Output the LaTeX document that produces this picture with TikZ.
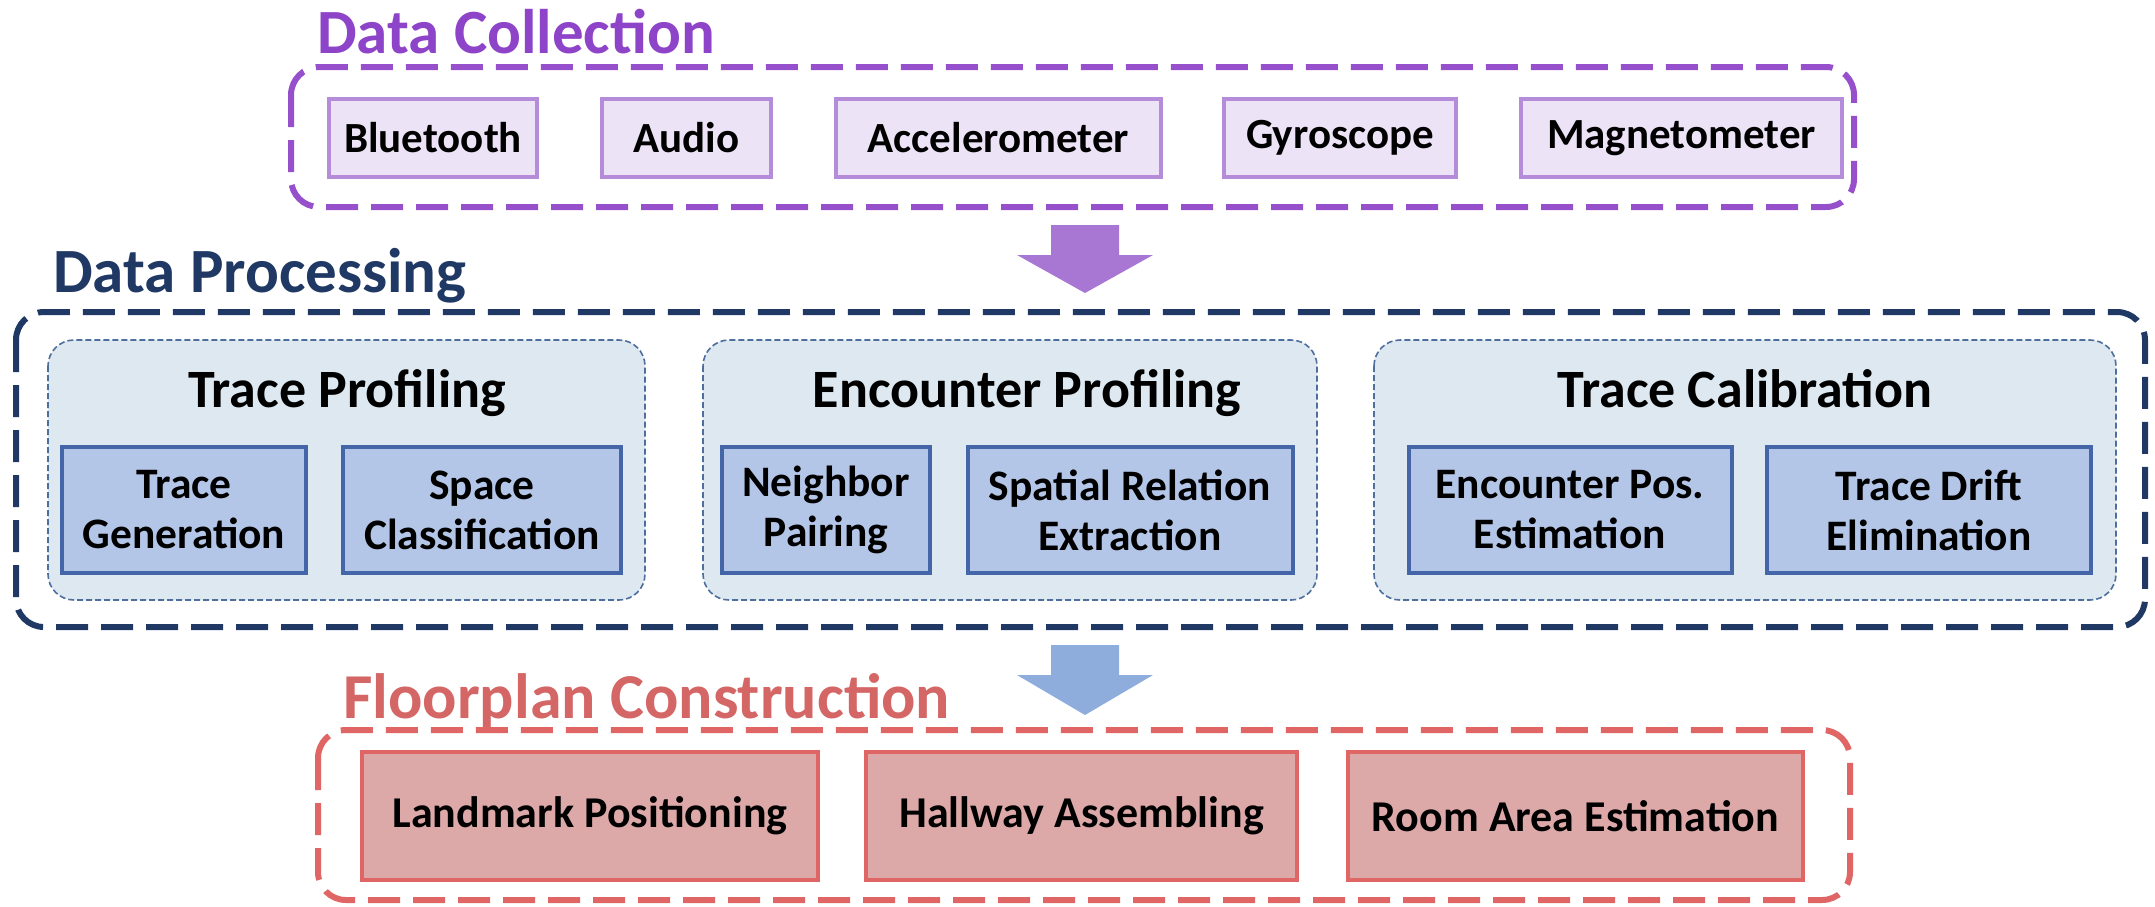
\documentclass[tikz,border=0pt]{standalone}
\usepackage{fontspec}
\setmainfont{Carlito}
\definecolor{dcpurple}{HTML}{8E44C8}
\definecolor{dcdash}{HTML}{9650CC}
\definecolor{sensfill}{HTML}{EDE3F7}
\definecolor{sensline}{HTML}{B58CDA}
\definecolor{parrow}{HTML}{A877D4}
\definecolor{dpnavy}{HTML}{1F3864}
\definecolor{panfill}{HTML}{DDE8F0}
\definecolor{panline}{HTML}{4E6E9E}
\definecolor{subfill}{HTML}{B4C6E7}
\definecolor{subline}{HTML}{4466A8}
\definecolor{barrow}{HTML}{8EADDC}
\definecolor{fcred}{HTML}{D46666}
\definecolor{redfill}{HTML}{DDA8A8}
\definecolor{redline}{HTML}{E06666}
\begin{document}
\begin{tikzpicture}[x=1pt,y=-1pt,
  outerbox/.style={line width=6pt, dash pattern=on 32pt off 13pt, rounded corners=28pt},
  titletext/.style={anchor=base west, inner sep=0pt, font=\bfseries\fontsize{63}{66}\selectfont},
  sensor/.style={draw=sensline, fill=sensfill, line width=4pt, minimum height=78pt, inner sep=0pt, font=\bfseries\fontsize{43}{46}\selectfont},
  panel/.style={draw=panline, fill=panfill, line width=1.6pt, dash pattern=on 6pt off 3pt, rounded corners=26pt},
  pantitle/.style={anchor=base, inner sep=0pt, font=\bfseries\fontsize{54}{58}\selectfont},
  subbox/.style={draw=subline, fill=subfill, line width=4pt, minimum height=126pt, inner sep=0pt, align=center, font=\bfseries\fontsize{43.5}{50}\selectfont},
  redbox/.style={draw=redline, fill=redfill, line width=4pt, minimum height=128pt, inner sep=0pt, font=\bfseries\fontsize{44}{48}\selectfont}
]
\useasboundingbox (0,0) rectangle (2155,906);

% ---------- Data Collection ----------
\node[titletext, text=dcpurple] (dctitle) at (317,53) {Data Collection};
\draw[outerbox, draw=dcdash] (291,67) rectangle (1854,207);
\node[sensor, minimum width=208pt] (bt) at (433,138) {Bluetooth};
\node[sensor, minimum width=169pt] (au) at (686.5,138) {Audio};
\node[sensor, minimum width=325pt] (ac) at (998.5,138) {Accelerometer};
\node[sensor, minimum width=232pt] (gy) at (1340,138) {Gyroscope};
\node[sensor, minimum width=321pt] (mg) at (1681.5,138) {Magnetometer};

% purple block arrow
\fill[parrow] (1051,225) -- (1119,225) -- (1119,255) -- (1153,255) -- (1085,293) -- (1017,255) -- (1051,255) -- cycle;

% ---------- Data Processing ----------
\node[titletext, text=dpnavy] (dptitle) at (53,292) {Data Processing};
\draw[outerbox, draw=dpnavy] (16,312) rectangle (2145,627);

\draw[panel] (48,340) rectangle (645,600);
\node[pantitle] (tp) at (347,407) {Trace Profiling};
\node[subbox, minimum width=244pt] (tg) at (184,510) {Trace\\Generation};
\node[subbox, minimum width=278pt] (sc) at (482,510) {Space\\Classification};

\draw[panel] (703,340) rectangle (1317,600);
\node[pantitle] (ep) at (1027,407) {Encounter Profiling};
\node[subbox, minimum width=208pt] (np) at (826,510) {Neighbor\\Pairing};
\node[subbox, minimum width=325pt] (sr) at (1130,510) {Spatial Relation\\Extraction};

\draw[panel] (1374,340) rectangle (2116,600);
\node[pantitle] (tc) at (1745,407) {Trace Calibration};
\node[subbox, minimum width=323pt] (epe) at (1570,510) {Encounter Pos.\\Estimation};
\node[subbox, minimum width=324pt] (td) at (1929,510) {Trace Drift\\Elimination};

% blue block arrow
\fill[barrow] (1051,645) -- (1119,645) -- (1119,675) -- (1153,675) -- (1085,715) -- (1017,675) -- (1051,675) -- cycle;

% ---------- Floorplan Construction ----------
\node[titletext, text=fcred] (fctitle) at (343,718) {\fontsize{64}{66}\selectfont Floorplan Construction};
\draw[outerbox, draw=redline] (318,730) rectangle (1850,900);
\node[redbox, minimum width=456pt] (lp) at (590,816) {Landmark Positioning};
\node[redbox, minimum width=431pt] (ha) at (1081.5,816) {Hallway Assembling};
\node[redbox, minimum width=455pt] (ra) at (1575.5,816) {Room Area Estimation};
\end{tikzpicture}
\end{document}
